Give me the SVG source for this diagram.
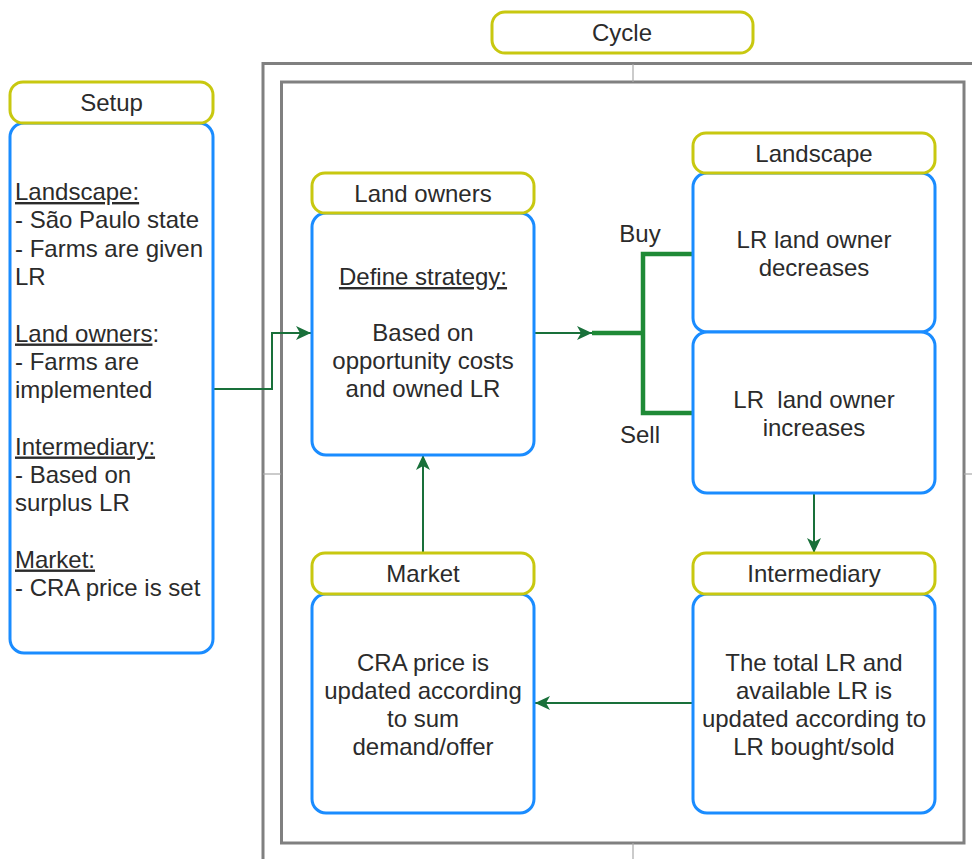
<svg xmlns="http://www.w3.org/2000/svg" width="972" height="859" viewBox="0 0 972 859">
  <style>
    text { font-family: "Liberation Sans", Arial, sans-serif; font-size: 24px; fill: #2b2b2b; }
    .c { text-anchor: middle; }
    .hdr { fill: #ffffff; stroke: #c8c810; stroke-width: 3; }
    .body { fill: #ffffff; stroke: #1a8cff; stroke-width: 3; }
    .frame { fill: none; stroke: #808080; stroke-width: 3; }
    .tick { stroke: #a8a8a8; stroke-width: 1.2; fill: none; }
    .thin { fill: none; stroke: #19703a; stroke-width: 2; }
    .thick { fill: none; stroke: #1f8a36; stroke-width: 4.5; }
    .u { text-decoration: underline; }
  </style>
  <defs>
    <marker id="arr" markerWidth="16" markerHeight="16" viewBox="0 0 16 16" refX="15" refY="8" orient="auto" markerUnits="userSpaceOnUse">
      <path d="M0,1 L15,8 L0,15 L4,8 Z" fill="#19703a"/>
    </marker>
  </defs>
  <rect width="972" height="859" fill="#ffffff"/>

  <g id="cycle-frame">
    <rect class="frame" x="263" y="63.5" width="740" height="820"/>
    <rect class="frame" x="281.5" y="82" width="682.5" height="761"/>
    <line class="tick" x1="633" y1="64" x2="633" y2="82"/>
    <line class="tick" x1="633" y1="843" x2="633" y2="859"/>
    <line class="tick" x1="263" y1="474" x2="281" y2="474"/>
    <line class="tick" x1="964" y1="474" x2="972" y2="474"/>
  </g>

  <g id="cycle-title">
    <rect class="hdr" x="492" y="12" width="261" height="41" rx="13"/>
    <text class="c" x="622" y="41">Cycle</text>
  </g>

  <g id="connectors">
    <path class="thin" d="M213,389 H272 V333 H311" marker-end="url(#arr)"/>
    <path class="thin" d="M534,333 H592" marker-end="url(#arr)"/>
    <path class="thick" d="M592,333 H643 M693,254 H643 V413 H693"/>
    <path class="thin" d="M423,553 V455" marker-end="url(#arr)"/>
    <path class="thin" d="M814,493 V553" marker-end="url(#arr)"/>
    <path class="thin" d="M693,703 H535" marker-end="url(#arr)"/>
    <text class="c" x="640" y="242">Buy</text>
    <text class="c" x="640" y="443">Sell</text>
  </g>

  <g id="setup">
    <rect class="body" x="10" y="123" width="203" height="530" rx="14"/>
    <rect class="hdr" x="10" y="82" width="203" height="41" rx="13"/>
    <text class="c" x="111.5" y="111">Setup</text>
    <text x="15" y="200"><tspan class="u">Landscape:</tspan></text>
    <text x="15" y="228.3">- São Paulo state</text>
    <text x="15" y="256.6">- Farms are given</text>
    <text x="15" y="285">LR</text>
    <text x="15" y="341.5"><tspan class="u">Land owners</tspan>:</text>
    <text x="15" y="370">- Farms are</text>
    <text x="15" y="398">implemented</text>
    <text x="15" y="454.5"><tspan class="u">Intermediary:</tspan></text>
    <text x="15" y="483">- Based on</text>
    <text x="15" y="511">surplus LR</text>
    <text x="15" y="567.5"><tspan class="u">Market:</tspan></text>
    <text x="15" y="596">- CRA price is set</text>
  </g>

  <g id="land-owners">
    <rect class="body" x="312" y="213" width="222" height="242" rx="14"/>
    <rect class="hdr" x="312" y="173" width="222" height="40" rx="13"/>
    <text class="c" x="423" y="201.5">Land owners</text>
    <text class="c" x="423" y="285"><tspan class="u">Define strategy:</tspan></text>
    <text class="c" x="423" y="341">Based on</text>
    <text class="c" x="423" y="369">opportunity costs</text>
    <text class="c" x="423" y="397">and owned LR</text>
  </g>

  <g id="landscape">
    <rect class="body" x="693" y="173" width="242" height="159" rx="14"/>
    <rect class="body" x="693" y="332" width="242" height="161" rx="14"/>
    <rect class="hdr" x="693" y="133" width="242" height="40" rx="13"/>
    <text class="c" x="814" y="161.5">Landscape</text>
    <text class="c" x="814" y="248">LR land owner</text>
    <text class="c" x="814" y="276">decreases</text>
    <text class="c" x="814" y="408" xml:space="preserve">LR  land owner</text>
    <text class="c" x="814" y="436">increases</text>
  </g>

  <g id="market">
    <rect class="body" x="312" y="594" width="222" height="219" rx="14"/>
    <rect class="hdr" x="312" y="553" width="222" height="41" rx="13"/>
    <text class="c" x="423" y="582">Market</text>
    <text class="c" x="423" y="671">CRA price is</text>
    <text class="c" x="423" y="699">updated according</text>
    <text class="c" x="423" y="727">to sum</text>
    <text class="c" x="423" y="755">demand/offer</text>
  </g>

  <g id="intermediary">
    <rect class="body" x="693" y="594" width="242" height="219" rx="14"/>
    <rect class="hdr" x="693" y="553" width="242" height="41" rx="13"/>
    <text class="c" x="814" y="582">Intermediary</text>
    <text class="c" x="814" y="671">The total LR and</text>
    <text class="c" x="814" y="699">available LR is</text>
    <text class="c" x="814" y="727">updated according to</text>
    <text class="c" x="814" y="755">LR bought/sold</text>
  </g>
</svg>
